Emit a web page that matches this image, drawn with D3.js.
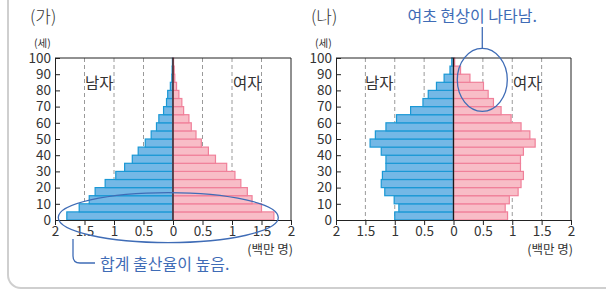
<!DOCTYPE html>
<html>
<head>
<meta charset="utf-8">
<script src="https://d3js.org/d3.v7.min.js"></script>
<style>
  body { margin: 0; background: white; }
  text { font-family: "Noto Sans CJK KR", "Noto Sans", sans-serif; }
</style>
</head>
<body>
<div id="chart"></div>
<script>
// age groups (lower bound of each 5-year band)
var ages = d3.range(0, 100, 5);

// (가) millions, from age 0-4 up to 95-99
var maleA   = [1.80, 1.59, 1.42, 1.32, 1.15, 0.97, 0.82, 0.69, 0.59, 0.47, 0.37, 0.28, 0.24, 0.16, 0.11, 0.09, 0.045, 0.02, 0.015, 0.01];
var femaleA = [1.71, 1.50, 1.34, 1.26, 1.15, 1.05, 0.91, 0.72, 0.60, 0.48, 0.39, 0.31, 0.27, 0.18, 0.15, 0.10, 0.06, 0.03, 0.02, 0.01];

// (나)
var maleB   = [1.00, 0.93, 1.01, 1.17, 1.23, 1.21, 1.15, 1.15, 1.23, 1.42, 1.33, 1.15, 0.97, 0.73, 0.52, 0.43, 0.29, 0.16, 0.06, 0.03];
var femaleB = [0.92, 0.88, 0.95, 1.10, 1.15, 1.19, 1.14, 1.14, 1.19, 1.39, 1.30, 1.15, 0.98, 0.81, 0.68, 0.59, 0.51, 0.28, 0.12, 0.02];

var xTicks = [-2, -1.5, -1, -0.5, 0, 0.5, 1, 1.5, 2];
var yTicks = d3.range(0, 101, 10);
var gridTicks = [-1.5, -1, -0.5, 0.5, 1, 1.5];

var W = 606, H = 290;
var svg = d3.select("#chart").append("svg")
    .attr("width", W).attr("height", H);

// outer rounded panel
svg.append("rect")
   .attr("x", 8).attr("y", -20)
   .attr("width", 620).attr("height", 308)
   .attr("rx", 13)
   .attr("fill", "none")
   .attr("stroke", "#cfcfcf")
   .attr("stroke-width", 2);

var noteColor = "#3f6cb6";

function pyramid(left, right, male, female, label, textX) {
    var x = d3.scaleLinear().domain([-2, 2]).range([left, right]);
    var y = d3.scaleLinear().domain([0, 100]).range([220, 58]);
    var g = svg.append("g");

    // title
    g.append("text").attr("x", left - 25).attr("y", 23)
     .attr("font-size", 17).attr("font-weight", 300).attr("fill", "#333").text(label);
    g.append("text").attr("x", left - 21).attr("y", 47)
     .attr("font-size", 10.5).attr("fill", "#333").text("(세)");

    // dashed grid
    g.selectAll(".grid").data(gridTicks).enter().append("line")
     .attr("x1", function(d) { return x(d); })
     .attr("x2", function(d) { return x(d); })
     .attr("y1", y(100)).attr("y2", y(0))
     .attr("stroke", "#9a9a9a")
     .attr("stroke-dasharray", "4,3");

    var band = y(0) - y(5);

    // male bars
    g.selectAll(".m").data(male).enter().append("rect")
     .attr("x", function(d) { return x(-d); })
     .attr("y", function(d, i) { return y(ages[i] + 5); })
     .attr("width", function(d) { return x(0) - x(-d); })
     .attr("height", band)
     .attr("fill", "#74b8e6")
     .attr("stroke", "#1a98d5")
     .attr("stroke-width", 1.2);

    // female bars
    g.selectAll(".f").data(female).enter().append("rect")
     .attr("x", x(0))
     .attr("y", function(d, i) { return y(ages[i] + 5); })
     .attr("width", function(d) { return x(d) - x(0); })
     .attr("height", band)
     .attr("fill", "#f8bdc7")
     .attr("stroke", "#f0809a")
     .attr("stroke-width", 1.2);

    // center line
    g.append("line")
     .attr("x1", x(0)).attr("x2", x(0))
     .attr("y1", y(100)).attr("y2", y(0))
     .attr("stroke", "#1b1b1b").attr("stroke-width", 1.3);

    // frame
    g.append("line").attr("x1", x(-2)).attr("x2", x(2))
     .attr("y1", y(100)).attr("y2", y(100)).attr("stroke", "#222");
    g.append("line").attr("x1", x(2)).attr("x2", x(2))
     .attr("y1", y(100)).attr("y2", y(0)).attr("stroke", "#222");

    // y axis, ticks pointing in
    var ya = g.append("g")
     .attr("transform", "translate(" + x(-2) + ",0)")
     .call(d3.axisRight(y).tickValues(yTicks).tickSize(5).tickSizeOuter(0));
    ya.selectAll("text").attr("x", -4).attr("text-anchor", "end")
      .attr("font-size", 13.5).attr("fill", "#333")
      .attr("font-family", "\"Noto Sans CJK KR\", sans-serif");
    ya.select(".domain").attr("stroke", "#222");
    ya.selectAll(".tick line").attr("stroke", "#222");

    // x axis
    var xa = g.append("g")
     .attr("transform", "translate(0," + y(0) + ")")
     .call(d3.axisBottom(x).tickValues(xTicks).tickSize(5).tickSizeOuter(0)
       .tickFormat(function(d) { return String(Math.abs(d)); }));
    xa.selectAll("text").attr("font-size", 13.5).attr("fill", "#333").attr("dy", "0.6em")
      .attr("font-family", "\"Noto Sans CJK KR\", sans-serif");
    xa.select(".domain").attr("stroke", "#222");
    xa.selectAll(".tick line").attr("stroke", "#222");

    g.append("text").attr("x", x(2) + 2).attr("y", 254)
     .attr("text-anchor", "end").attr("font-size", 12.5).attr("fill", "#333")
     .text("(백만 명)");

    g.append("text").attr("x", textX[0]).attr("y", 89)
     .attr("font-size", 15.5).attr("fill", "#333").text("남자");
    g.append("text").attr("x", textX[1]).attr("y", 89)
     .attr("font-size", 15.5).attr("fill", "#333").text("여자");

    return { x: x, y: y };
}

var a = pyramid(55, 291, maleA, femaleA, "(가)", [85, 233]);
var b = pyramid(336, 571, maleB, femaleB, "(나)", [365, 513]);

// annotation (가): ellipse round young ages
svg.append("ellipse")
   .attr("cx", a.x(-0.08)).attr("cy", a.y(1.5))
   .attr("rx", 110).attr("ry", 25)
   .attr("fill", "none").attr("stroke", noteColor).attr("stroke-width", 1.3);
svg.append("path")
   .attr("d", "M73,239 L73,256 Q73,263 80,263 L95,263")
   .attr("fill", "none").attr("stroke", noteColor).attr("stroke-width", 1.3);
svg.append("text").attr("x", 100).attr("y", 270)
   .attr("font-size", 16).attr("fill", noteColor).text("합계 출산율이 높음.");

// annotation (나): ellipse round older women
var ex = b.x(0.49);
svg.append("ellipse")
   .attr("cx", ex).attr("cy", b.y(86.5))
   .attr("rx", 25).attr("ry", 31.5)
   .attr("fill", "none").attr("stroke", noteColor).attr("stroke-width", 1.3);
svg.append("line")
   .attr("x1", ex).attr("x2", ex)
   .attr("y1", 27).attr("y2", b.y(86.5) - 31.5)
   .attr("stroke", noteColor).attr("stroke-width", 1.3);
svg.append("text").attr("x", b.x(0.32)).attr("y", 22)
   .attr("text-anchor", "middle")
   .attr("font-size", 16).attr("fill", noteColor).text("여초 현상이 나타남.");
</script>
</body>
</html>
